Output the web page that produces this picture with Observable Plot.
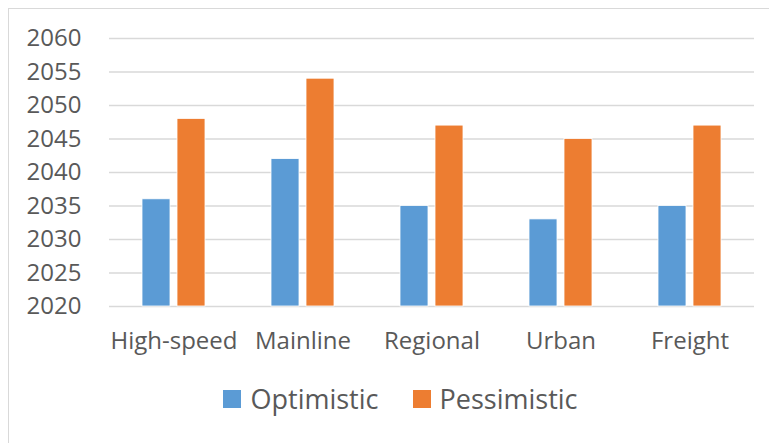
<!DOCTYPE html>
<html>
<head>
<meta charset="utf-8">
<script src="https://cdn.jsdelivr.net/npm/d3@7"></script>
<script src="https://cdn.jsdelivr.net/npm/@observablehq/plot@0.6"></script>
<style>
  html, body { margin: 0; padding: 0; background: #fff; }
  body { width: 769px; height: 443px; position: relative; overflow: hidden; font-family: "Open Sans", sans-serif; }
  #frame { position: absolute; left: 8px; top: 8px; width: 800px; height: 500px; border: 1.5px solid #d9d9d9; box-sizing: border-box; }
  #chart { position: absolute; left: 0; top: 0; }
  #legend { position: absolute; left: 0; top: 380px; width: 769px; display: flex; justify-content: center; gap: 34px; padding-left: 32px; box-sizing: border-box; color: #595959; font-size: 27px; }
  #legend span.item { display: flex; align-items: center; }
  #legend span.sw { display: inline-block; width: 18px; height: 18px; margin-right: 9px; }
</style>
</head>
<body>
<div id="frame"></div>
<div id="chart"></div>
<div id="legend"></div>
<script>
const categories = ["High-speed", "Mainline", "Regional", "Urban", "Freight"];
const optimistic = [2036, 2042, 2035, 2033, 2035];
const pessimistic = [2048, 2054, 2047, 2045, 2047];
const seriesNames = ["Optimistic", "Pessimistic"];
const seriesColors = ["#5B9BD5", "#ED7D31"];
const yTicks = [2020, 2025, 2030, 2035, 2040, 2045, 2050, 2055, 2060];
const baseYear = 2020;

const table = [];
categories.forEach((c, i) => {
  table.push({category: c, series: seriesNames[0], value: optimistic[i]});
  table.push({category: c, series: seriesNames[1], value: pessimistic[i]});
});

const plot = Plot.plot({
  width: 769,
  height: 360,
  marginLeft: 109,
  marginRight: 15,
  marginTop: 38,
  marginBottom: 54,
  style: {fontFamily: "Open Sans", fontSize: "24px", color: "#595959", background: "transparent"},
  fx: {domain: categories, paddingInner: 0, paddingOuter: 0, axis: "bottom", tickSize: 0, tickPadding: 25, label: null},
  x: {domain: seriesNames, paddingInner: 0.194, paddingOuter: 0.889, axis: null},
  y: {domain: [2020, 2060], ticks: yTicks, tickSize: 0, tickPadding: 28, label: null, tickFormat: d => String(d)},
  color: {domain: seriesNames, range: seriesColors},
  marks: [
    Plot.ruleY(yTicks, {stroke: "#d9d9d9", strokeWidth: 1.5}),
    Plot.barY(table, {fx: "category", x: "series", y1: () => baseYear, y2: "value", fill: "series", stroke: "#fff", strokeWidth: 0.8})
  ]
});
document.getElementById("chart").appendChild(plot);

const legend = document.getElementById("legend");
seriesNames.forEach((s, i) => {
  const item = document.createElement("span");
  item.className = "item";
  const sw = document.createElement("span");
  sw.className = "sw";
  sw.style.background = seriesColors[i];
  item.appendChild(sw);
  item.appendChild(document.createTextNode(s));
  legend.appendChild(item);
});
</script>
</body>
</html>
